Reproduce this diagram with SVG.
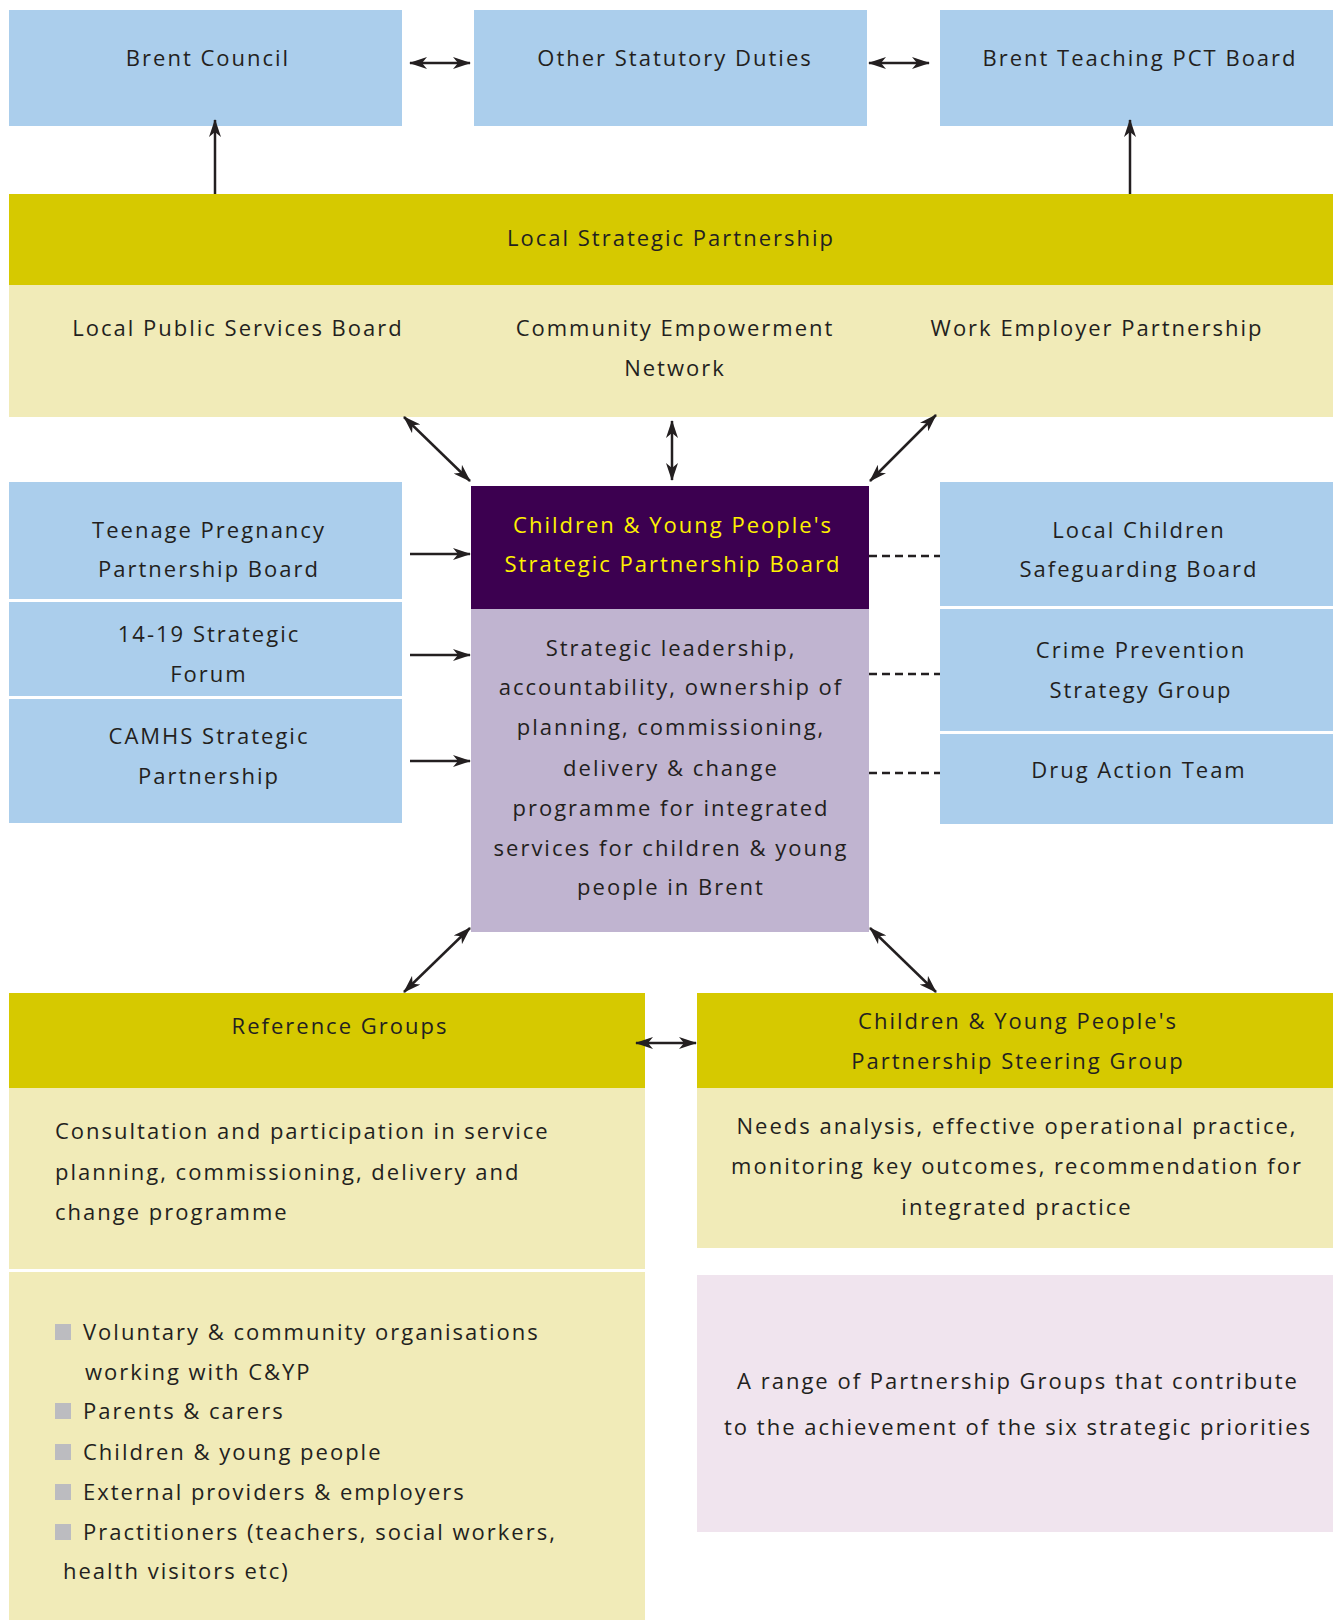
<svg xmlns="http://www.w3.org/2000/svg" width="1338" height="1620" viewBox="0 0 1338 1620">
<defs>
<marker id="ah" viewBox="0 0 18 12" refX="17" refY="6" markerWidth="18" markerHeight="12" markerUnits="userSpaceOnUse" orient="auto-start-reverse">
<path d="M0,0 L18,6 L0,12 L5,6 z" fill="#231F20"/>
</marker>
<style>
text{font-family:"Open Sans","Noto Sans","DejaVu Sans",sans-serif;font-size:22px;fill:#231F20;letter-spacing:2px;}
.c{text-anchor:middle;}
.yt{fill:#FFF200;}
.blue{fill:#ABCEEC;}
.dy{fill:#D6C900;}
.ly{fill:#F1EBB8;}
.pd{fill:#3C0050;}
.pl{fill:#C0B4D0;}
.pk{fill:#F0E4EE;}
.bul{fill:#BCBCC0;}
.ln{stroke:#231F20;stroke-width:2.5;fill:none;}
.a1{marker-end:url(#ah);}
.a2{marker-start:url(#ah);marker-end:url(#ah);}
.ds{stroke:#231F20;stroke-width:2.5;stroke-dasharray:8,5;fill:none;}
</style>
</defs>

<g id="brent-council">
<rect class="blue" x="9" y="10" width="393" height="116"/>
<text class="c" x="208" y="66">Brent Council</text>
</g>
<g id="other-statutory">
<rect class="blue" x="474" y="10" width="393" height="116"/>
<text class="c" x="675" y="66">Other Statutory Duties</text>
</g>
<g id="brent-pct">
<rect class="blue" x="940" y="10" width="393" height="116"/>
<text class="c" x="1140" y="66">Brent Teaching PCT Board</text>
</g>

<g id="lsp">
<rect class="dy" x="9" y="194" width="1324" height="91"/>
<text class="c" x="671" y="246">Local Strategic Partnership</text>
<rect class="ly" x="9" y="285" width="1324" height="132"/>
<text class="c" x="238" y="336">Local Public Services Board</text>
<text class="c" x="675" y="336">Community Empowerment</text>
<text class="c" x="675" y="376">Network</text>
<text class="c" x="1097" y="336">Work Employer Partnership</text>
</g>

<g id="teenage">
<rect class="blue" x="9" y="482" width="393" height="117"/>
<text class="c" x="209" y="538">Teenage Pregnancy</text>
<text class="c" x="209" y="577">Partnership Board</text>
</g>
<g id="forum1419">
<rect class="blue" x="9" y="602" width="393" height="94"/>
<text class="c" x="209" y="642">14-19 Strategic</text>
<text class="c" x="209" y="682">Forum</text>
</g>
<g id="camhs">
<rect class="blue" x="9" y="699" width="393" height="124"/>
<text class="c" x="209" y="744">CAMHS Strategic</text>
<text class="c" x="209" y="784">Partnership</text>
</g>

<g id="cyp-board">
<rect class="pd" x="471" y="486" width="398" height="123"/>
<text class="c yt" x="673" y="533">Children &amp; Young People's</text>
<text class="c yt" x="673" y="572">Strategic Partnership Board</text>
<rect class="pl" x="471" y="609" width="398" height="323"/>
<text class="c" x="671" y="656">Strategic leadership,</text>
<text class="c" x="671" y="695">accountability, ownership of</text>
<text class="c" x="671" y="735">planning, commissioning,</text>
<text class="c" x="671" y="776">delivery &amp; change</text>
<text class="c" x="671" y="816">programme for integrated</text>
<text class="c" x="671" y="856">services for children &amp; young</text>
<text class="c" x="671" y="895">people in Brent</text>
</g>

<g id="lcsb">
<rect class="blue" x="940" y="482" width="393" height="124"/>
<text class="c" x="1139" y="538">Local Children</text>
<text class="c" x="1139" y="577">Safeguarding Board</text>
</g>
<g id="crime">
<rect class="blue" x="940" y="609" width="393" height="122"/>
<text class="c" x="1141" y="658">Crime Prevention</text>
<text class="c" x="1141" y="698">Strategy Group</text>
</g>
<g id="drug">
<rect class="blue" x="940" y="734" width="393" height="90"/>
<text class="c" x="1139" y="778">Drug Action Team</text>
</g>

<g id="reference-groups">
<rect class="dy" x="9" y="993" width="636" height="95"/>
<text class="c" x="340" y="1034">Reference Groups</text>
<rect class="ly" x="9" y="1088" width="636" height="181"/>
<text x="55" y="1139">Consultation and participation in service</text>
<text x="55" y="1180">planning, commissioning, delivery and</text>
<text x="55" y="1220">change programme</text>
<rect class="ly" x="9" y="1272" width="636" height="348"/>
<rect class="bul" x="55" y="1324" width="16" height="16"/>
<text x="83" y="1340">Voluntary &amp; community organisations</text>
<text x="85" y="1380">working with C&amp;YP</text>
<rect class="bul" x="55" y="1403" width="16" height="16"/>
<text x="83" y="1419">Parents &amp; carers</text>
<rect class="bul" x="55" y="1444" width="16" height="16"/>
<text x="83" y="1460">Children &amp; young people</text>
<rect class="bul" x="55" y="1484" width="16" height="16"/>
<text x="83" y="1500">External providers &amp; employers</text>
<rect class="bul" x="55" y="1524" width="16" height="16"/>
<text x="83" y="1540">Practitioners (teachers, social workers,</text>
<text x="63" y="1579">health visitors etc)</text>
</g>

<g id="steering-group">
<rect class="dy" x="697" y="993" width="636" height="95"/>
<text class="c" x="1018" y="1029">Children &amp; Young People's</text>
<text class="c" x="1018" y="1069">Partnership Steering Group</text>
<rect class="ly" x="697" y="1088" width="636" height="160"/>
<text class="c" x="1017" y="1134">Needs analysis, effective operational practice,</text>
<text class="c" x="1017" y="1174">monitoring key outcomes, recommendation for</text>
<text class="c" x="1017" y="1215">integrated practice</text>
</g>

<g id="partnership-groups">
<rect class="pk" x="697" y="1275" width="636" height="257"/>
<text class="c" x="1018" y="1389">A range of Partnership Groups that contribute</text>
<text class="c" x="1018" y="1435">to the achievement of the six strategic priorities</text>
</g>

<g id="connectors">
<line class="ln a2" x1="410" y1="63" x2="470" y2="63"/>
<line class="ln a2" x1="869" y1="63" x2="929" y2="63"/>
<line class="ln a1" x1="215" y1="194" x2="215" y2="120"/>
<line class="ln a1" x1="1130" y1="194" x2="1130" y2="120"/>
<line class="ln a2" x1="404" y1="417" x2="470" y2="481"/>
<line class="ln a2" x1="672" y1="421" x2="672" y2="480"/>
<line class="ln a2" x1="936" y1="415" x2="870" y2="481"/>
<line class="ln a1" x1="410" y1="554" x2="470" y2="554"/>
<line class="ln a1" x1="410" y1="655" x2="470" y2="655"/>
<line class="ln a1" x1="410" y1="761" x2="470" y2="761"/>
<line class="ds" x1="869" y1="556" x2="940" y2="556"/>
<line class="ds" x1="869" y1="674" x2="940" y2="674"/>
<line class="ds" x1="869" y1="773" x2="940" y2="773"/>
<line class="ln a2" x1="404" y1="992" x2="470" y2="928"/>
<line class="ln a2" x1="870" y1="928" x2="936" y2="992"/>
<line class="ln a2" x1="636" y1="1043" x2="696" y2="1043"/>
</g>
</svg>
